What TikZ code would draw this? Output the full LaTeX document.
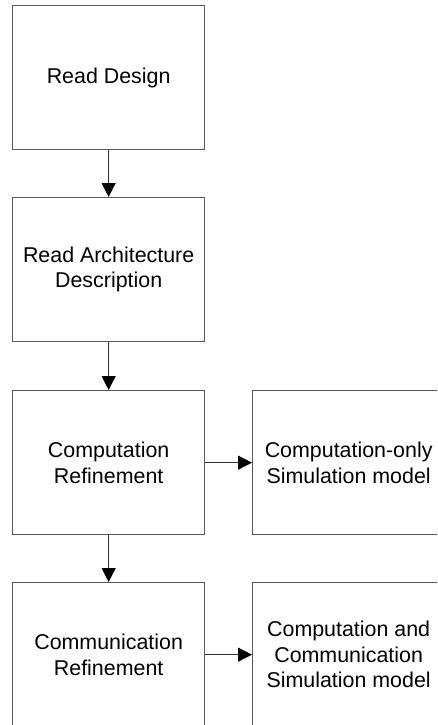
\documentclass[tikz,border=0pt]{standalone}
\usepackage{fontspec}
\setmainfont{Liberation Sans}
\usetikzlibrary{arrows.meta}
\begin{document}
\begin{tikzpicture}[x=1pt,y=-1pt,
  box/.style={draw=black!65,line width=1.3pt,minimum width=192pt,minimum height=144pt,
    inner sep=0pt,align=center,anchor=north west,
    font=\fontsize{21.4}{25.5}\selectfont,text=black},
  conn/.style={draw=black!80,line width=1pt,-{Triangle[length=14pt,width=14pt,color=black]}}]
\useasboundingbox (0,0) rectangle (437,725);
\begin{scope}
\clip (0,0) rectangle (437,725);
\node[box] (rd) at (12,5) {Read Design};
\node[box] (ra) at (12,197) {Read Architecture\\Description};
\node[box] (cr) at (12,390) {Computation\\Refinement};
\node[box] (mr) at (12,582) {Communication\\Refinement};
\node[box] (cs) at (252,390) {Computation-only\\Simulation model};
\node[box] (ms) at (252,582) {Computation and\\Communication\\Simulation model};
\draw[conn] (rd.south) -- (ra.north);
\draw[conn] (ra.south) -- (cr.north);
\draw[conn] (cr.south) -- (mr.north);
\draw[conn] (cr.east) -- (cs.west);
\draw[conn] (mr.east) -- (ms.west);
\end{scope}
\end{tikzpicture}
\end{document}
